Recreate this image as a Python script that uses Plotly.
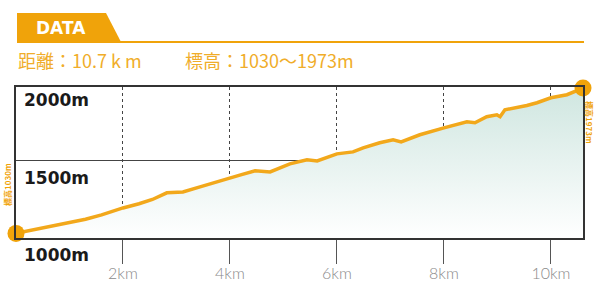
import plotly.graph_objects as go

# distance (km) and elevation (m)
dist_km = [0.0, 0.25, 0.5, 0.75, 0.95, 1.3, 1.6, 2.0, 2.3, 2.55, 2.82, 3.12, 3.44,
           3.7, 4.0, 4.2, 4.47, 4.75, 5.12, 5.44, 5.63, 6.0, 6.3, 6.49, 6.8, 7.05,
           7.2, 7.55, 8.0, 8.2, 8.43, 8.58, 8.8, 8.99, 9.05, 9.14, 9.36, 9.55, 9.74,
           10.0, 10.3, 10.6]
elev_m = [1030, 1048, 1066, 1082, 1098, 1122, 1150, 1195, 1222, 1250, 1293, 1299, 1332,
          1360, 1390, 1410, 1436, 1429, 1481, 1507, 1500, 1546, 1559, 1585, 1618, 1637,
          1624, 1670, 1715, 1732, 1754, 1748, 1787, 1800, 1787, 1832, 1845, 1860, 1878,
          1910, 1930, 1973]

x_ticks = [2, 4, 6, 8, 10]
x_tick_labels = ["2km", "4km", "6km", "8km", "10km"]
y_labels = ["2000m", "1500m", "1000m"]
header_text = "DATA"
distance_text = "距離：10.7 k m"
elev_text = "標高：1030〜1973m"
side_left = "標高1030m"
side_right = "標高1973m"

ORANGE = "#f0a30a"
LINE_ORANGE = "#f2a81b"
TEXT_ORANGE = "#f0ad2a"

W, H = 597, 284
L, R, T, B = 16, 14, 87, 46
pw, ph = W - L - R, H - T - B


def px_x(px):
    return (px - L) / pw


def px_y(py):
    return (H - B - py) / ph


fig = go.Figure()
fig.add_trace(go.Scatter(
    x=dist_km, y=elev_m, mode="lines",
    line=dict(color=LINE_ORANGE, width=3.5),
    fill="tozeroy",
    fillgradient=dict(type="vertical", start=1000, stop=1980,
                      colorscale=[[0, "#ffffff"], [1, "#cfe6e0"]]),
    hoverinfo="skip", showlegend=False, cliponaxis=False,
))
fig.add_trace(go.Scatter(
    x=[dist_km[0], dist_km[-1]], y=[elev_m[0], elev_m[-1]], mode="markers",
    marker=dict(color=ORANGE, size=17), cliponaxis=False,
    hoverinfo="skip", showlegend=False,
))

fig.update_xaxes(
    range=[0, 10.6], tickvals=x_ticks, ticktext=x_tick_labels,
    showgrid=True, gridcolor="#444", griddash="dot", gridwidth=1,
    ticks="outside", ticklen=24, tickcolor="#555", tickwidth=1,
    ticklabelstandoff=-4,
    tickfont=dict(family="Lato", size=16, color="#8a8a8a", weight=300),
    showline=True, linecolor="#333", linewidth=1.6, mirror=True,
    zeroline=False, automargin=False,
)
fig.update_yaxes(
    range=[1000, 1980], tickvals=[1500], showticklabels=False,
    showgrid=True, gridcolor="#444", gridwidth=1.4,
    showline=True, linecolor="#333", linewidth=1.6, mirror=True,
    zeroline=False, automargin=False,
)

lab_font = dict(family="DejaVu Sans", size=17, color="#1a1a1a", weight="bold")
ann = [
    dict(x=px_x(22), y=px_y(100), text=y_labels[0], font=lab_font, xanchor="left"),
    dict(x=px_x(22), y=px_y(178), text=y_labels[1], font=lab_font, xanchor="left"),
    dict(x=px_x(22), y=px_y(255), text=y_labels[2], font=lab_font, xanchor="left"),
    dict(x=px_x(61), y=px_y(28), text=header_text, xanchor="center",
         font=dict(family="DejaVu Sans", size=17, color="white", weight="bold")),
    dict(x=px_x(16), y=px_y(60), text=distance_text, xanchor="left",
         font=dict(family="Noto Sans CJK JP", size=18, color=TEXT_ORANGE)),
    dict(x=px_x(183), y=px_y(60), text=elev_text, xanchor="left",
         font=dict(family="Noto Sans CJK JP", size=18, color=TEXT_ORANGE)),
    dict(x=px_x(7), y=px_y(185), text=side_left, textangle=-90, xanchor="center",
         font=dict(family="Noto Sans CJK JP", size=8, color=ORANGE, weight="bold")),
    dict(x=px_x(590), y=px_y(122), text=side_right, textangle=90, xanchor="center",
         font=dict(family="Noto Sans CJK JP", size=8, color=ORANGE, weight="bold")),
]
for a in ann:
    a.update(xref="paper", yref="paper", yanchor="middle", showarrow=False)

shapes = [
    dict(type="path", xref="paper", yref="paper",
         path="M {} {} L {} {} L {} {} L {} {} Z".format(
             px_x(17), px_y(13), px_x(106), px_y(13),
             px_x(121), px_y(42), px_x(17), px_y(42)),
         fillcolor=ORANGE, line=dict(width=0), layer="above"),
    dict(type="line", xref="paper", yref="paper",
         x0=px_x(17), x1=px_x(584), y0=px_y(42), y1=px_y(42),
         line=dict(color=ORANGE, width=2)),
]

fig.update_layout(
    width=W, height=H, margin=dict(l=L, r=R, t=T, b=B, autoexpand=False),
    paper_bgcolor="white", plot_bgcolor="white",
    annotations=ann, shapes=shapes, showlegend=False,
)
fig.write_html(
    "out.html",
    config={"displayModeBar": False},
    post_script=("document.body.style.margin='0';"
                 "document.body.style.overflow='hidden';"
                 "document.documentElement.style.overflow='hidden';"),
)
